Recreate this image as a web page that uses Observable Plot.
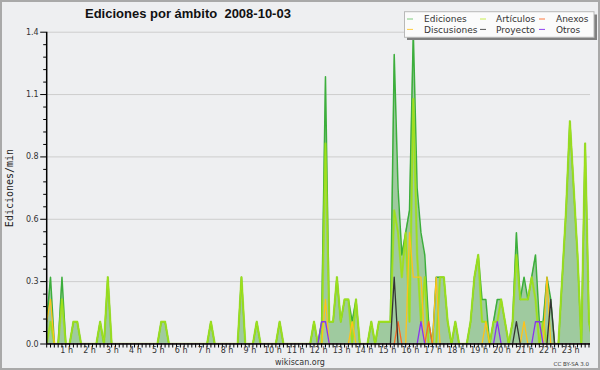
<!DOCTYPE html>
<html><head><meta charset="utf-8">
<script src="https://cdn.jsdelivr.net/npm/d3@7"></script>
<script src="https://cdn.jsdelivr.net/npm/@observablehq/plot@0.6"></script>
<style>
body{margin:0;background:#eeeff1;}
#wrap{width:600px;height:370px;}
</style>
</head><body><div id="wrap"></div>
<script>
// 10-minute bins (144 per day), values in edits/min; one row per hour (6 bins)
const total = [
  0.1,0.3,0,0,0.3,0,   0,0.1,0.1,0,0,0,   0,0,0.1,0,0.3,0,   0,0,0,0,0,0,
  0,0,0,0,0,0,         0.1,0.1,0,0,0,0,   0,0,0,0,0,0,       0,0.1,0,0,0,0,
  0,0,0,0.3,0,0,       0,0.1,0,0,0,0,     0,0.1,0,0,0,0,     0,0,0,0,0.1,0,
  0.1,1.2,0.1,0.1,0.3,0.1, 0.2,0.2,0.1,0.2,0,0, 0,0.1,0,0.1,0.1,0.1, 0.1,1.3,0.7,0.4,0.5,0.6,
  1.4,0.7,0.5,0.4,0.1,0, 0.3,0.3,0.3,0.1,0,0.1, 0,0,0,0.1,0.3,0.4, 0.2,0.2,0,0.1,0.2,0.2,
  0.1,0,0.1,0.5,0.2,0.3, 0.2,0.3,0.4,0.1,0.1,0.3, 0.2,0,0,0.3,0.6,1.0, 0.7,0.4,0,0.9,0.1,0
];
const articulos = [
  0,0.1,0,0,0.2,0,     0,0.1,0.1,0,0,0,   0,0,0.1,0,0.3,0,   0,0,0,0,0,0,
  0,0,0,0,0,0,         0.1,0.1,0,0,0,0,   0,0,0,0,0,0,       0,0.1,0,0,0,0,
  0,0,0,0.3,0,0,       0,0.1,0,0,0,0,     0,0.1,0,0,0,0,     0,0,0,0,0.1,0,
  0,0.9,0.1,0.1,0.3,0.1, 0.2,0.2,0,0.2,0,0, 0,0.1,0,0.1,0.1,0.1, 0.1,0.6,0.5,0.3,0.5,0.1,
  1.1,0.4,0.1,0.3,0,0, 0,0.3,0.3,0.1,0,0.1, 0,0,0,0.1,0.3,0.4, 0.1,0.1,0,0.1,0.1,0.2,
  0.1,0,0.1,0.4,0.2,0.2, 0.2,0.3,0.2,0,0.1,0, 0,0,0,0.3,0.6,1.0, 0.7,0.4,0,0.9,0.1,0
];
const discusiones = [
  0.1,0.2,0,0,0,0, 0,0,0,0,0,0, 0,0,0,0,0,0, 0,0,0,0,0,0,
  0,0,0,0,0,0, 0,0,0,0,0,0, 0,0,0,0,0,0, 0,0,0,0,0,0,
  0,0,0,0,0,0, 0,0,0,0,0,0, 0,0,0,0,0,0, 0,0,0,0,0,0,
  0,0.2,0,0,0,0, 0,0,0.1,0,0,0, 0,0,0,0,0,0, 0,0,0,0,0,0.5,
  0.3,0.3,0.3,0,0,0, 0.3,0,0,0,0,0, 0,0,0,0,0,0, 0,0.1,0,0,0,0,
  0,0,0,0,0,0.1, 0,0,0,0,0,0.3, 0,0,0,0,0,0, 0,0,0,0,0,0
];
const anexos = [
  0,0,0,0,0,0, 0,0,0,0,0,0, 0,0,0,0,0,0, 0,0,0,0,0,0,
  0,0,0,0,0,0, 0,0,0,0,0,0, 0,0,0,0,0,0, 0,0,0,0,0,0,
  0,0,0,0,0,0, 0,0,0,0,0,0, 0,0,0,0,0,0, 0,0,0,0,0,0,
  0,0,0,0,0,0, 0,0,0,0,0,0, 0,0,0,0,0,0, 0,0,0.1,0,0,0,
  0,0,0,0,0.1,0, 0,0,0,0,0,0, 0,0,0,0,0,0, 0,0,0,0,0,0,
  0,0,0,0,0,0, 0,0,0,0,0,0, 0,0,0,0,0,0, 0,0,0,0,0,0
];
const proyecto = [
  0,0,0,0,0,0, 0,0,0,0,0,0, 0,0,0,0,0,0, 0,0,0,0,0,0,
  0,0,0,0,0,0, 0,0,0,0,0,0, 0,0,0,0,0,0, 0,0,0,0,0,0,
  0,0,0,0,0,0, 0,0,0,0,0,0, 0,0,0,0,0,0, 0,0,0,0,0,0,
  0,0,0,0,0,0, 0,0,0,0,0,0, 0,0,0,0,0,0, 0,0.3,0,0,0,0,
  0,0,0,0,0,0, 0,0,0,0,0,0, 0,0,0,0,0,0, 0,0,0,0,0,0,
  0,0,0,0.1,0,0, 0,0,0,0,0,0, 0.2,0,0,0,0,0, 0,0,0,0,0,0
];
const otros = [
  0,0,0,0,0,0, 0,0,0,0,0,0, 0,0,0,0,0,0, 0,0,0,0,0,0,
  0,0,0,0,0,0, 0,0,0,0,0,0, 0,0,0,0,0,0, 0,0,0,0,0,0,
  0,0,0,0,0,0, 0,0,0,0,0,0, 0,0,0,0,0,0, 0,0,0,0,0,0,
  0.1,0.1,0,0,0,0, 0,0,0,0,0,0, 0,0,0,0,0,0, 0,0,0,0,0,0,
  0,0,0.1,0,0,0, 0,0,0,0,0,0, 0,0,0,0,0,0, 0,0,0,0,0.1,0,
  0,0,0,0,0,0, 0,0,0.1,0.1,0,0, 0,0,0,0,0,0, 0,0,0,0,0,0
];
const seriesNames = ["Ediciones","Artículos","Anexos","Discusiones","Proyecto","Otros"];
const seriesColors = ["#3cae3c","#9fe01a","#ff6a22","#ffc21a","#333333","#8a33ee"];
const yTicks = [0, 0.28, 0.56, 0.84, 1.12, 1.4];
const yTickLabels = ["0.0","0.3","0.6","0.8","1.1","1.4"];
const hourTicks = [60,120,180,240,300,360,420,480,540,600,660,720,780,840,900,960,1020,1080,1140,1200,1260,1320,1380];
const hourLabels = ["1 h","2 h","3 h","4 h","5 h","6 h","7 h","8 h","9 h","10 h","11 h","12 h","13 h","14 h","15 h","16 h","17 h","18 h","19 h","20 h","21 h","22 h","23 h"];

const rows = total.map((v, i) => ({
  t: i * 10, total: v, articulos: articulos[i], anexos: anexos[i],
  discusiones: discusiones[i], proyecto: proyecto[i], otros: otros[i]
}));
const tenMin = d3.range(0, 1430, 10);
const minorY = [];
for (let k = 0; k < yTicks.length - 1; k++)
  for (let j = 1; j < 5; j++) minorY.push(yTicks[k] + (yTicks[k + 1] - yTicks[k]) * j / 5);

const line = (key, color, w, op = 1) => Plot.lineY(rows, {x: "t", y: key, stroke: color, strokeWidth: w, strokeOpacity: op, clip: true});

const svg = Plot.plot({
  width: 600, height: 370,
  marginLeft: 46.2, marginRight: 10, marginTop: 31.7, marginBottom: 26.5,
  style: {background: "#eeeff1", fontFamily: "DejaVu Sans, sans-serif", fontSize: "8px", color: "#333", overflow: "visible"},
  x: {domain: [0, 1424], axis: null},
  y: {domain: [0, 1.4], axis: null},
  marks: [
    Plot.gridY(yTicks.slice(1), {stroke: "#cdcdcd", strokeOpacity: 1}),
    Plot.areaY(rows, {x: "t", y: "total", fill: "#9fca9f", clip: true}),
    line("total", seriesColors[0], 1.5),
    line("articulos", seriesColors[1], 2.4, 0.55),
    line("articulos", seriesColors[1], 1.3),
    line("discusiones", seriesColors[3], 1.3),
    line("anexos", seriesColors[2], 1.3),
    line("proyecto", seriesColors[4], 1.3),
    line("otros", seriesColors[5], 1.3),
    Plot.axisY({ticks: minorY, tickSize: 3, tickFormat: () => "", stroke: "#000", label: null}),
    Plot.axisY({ticks: yTicks, tickSize: 6, tickPadding: 2, stroke: "#000", fill: "#333", label: null,
      tickFormat: d => yTickLabels[yTicks.indexOf(d)]}),
    Plot.axisX({ticks: tenMin, tickSize: 4, tickFormat: () => "", stroke: "#000", label: null}),
    Plot.axisX({ticks: hourTicks, tickSize: 0, tickPadding: 3, dx: -3, fill: "#333", label: null,
      tickFormat: d => hourLabels[hourTicks.indexOf(d)]}),
    Plot.ruleY([0], {stroke: "#000", strokeWidth: 1.5}),
    Plot.ruleX([0], {stroke: "#000", strokeWidth: 1.5})
  ]
});

const s = d3.select(svg);
// frame
s.append("rect").attr("x", 1).attr("y", 1).attr("width", 598).attr("height", 368)
  .attr("fill", "none").attr("stroke", "#a9a9a9").attr("stroke-width", 2);
// title
s.append("text").attr("x", 85).attr("y", 18.3).attr("text-anchor", "start")
  .attr("font-family", "Liberation Sans, Arial, sans-serif").attr("font-weight", "bold")
  .attr("font-size", 13).attr("fill", "#111")
  .style("white-space", "pre").text("Ediciones por ámbito  2008-10-03");
// y label
s.append("text").attr("transform", "translate(13,188) rotate(-90)").attr("text-anchor", "middle")
  .attr("font-family", "DejaVu Sans Mono, monospace").attr("font-size", 10).attr("fill", "#222")
  .text("Ediciones/min");
// footer
s.append("text").attr("x", 300).attr("y", 365).attr("text-anchor", "middle")
  .attr("font-size", 8).attr("fill", "#333").text("wikiscan.org");
s.append("text").attr("x", 589).attr("y", 365.5).attr("text-anchor", "end")
  .attr("font-size", 5.5).attr("fill", "#333").text("CC BY-SA 3.0");
// legend
const lg = s.append("g").attr("text-anchor", "start");
lg.append("rect").attr("x", 407).attr("y", 14.5).attr("width", 190).attr("height", 25.5).attr("fill", "#808080");
lg.append("rect").attr("x", 404.5).attr("y", 11.7).attr("width", 189.5).attr("height", 25.6)
  .attr("fill", "#fbfbfb").attr("stroke", "#b8b8b8").attr("stroke-width", 1);
const legendPos = [
  {lx: 407, tx: 424, y: 19}, {lx: 480, tx: 496, y: 19}, {lx: 539, tx: 556, y: 19},
  {lx: 407, tx: 424, y: 29.4}, {lx: 480, tx: 496, y: 29.4}, {lx: 539, tx: 556, y: 29.4}
];
const legendColors = ["#7fcc7f", "#c8ee50", "#ff7a40", "#ffcc40", "#555555", "#9040f0"];
seriesNames.forEach((name, k) => {
  const p = legendPos[k];
  lg.append("line").attr("x1", p.lx).attr("x2", p.lx + 6).attr("y1", p.y).attr("y2", p.y)
    .attr("stroke", legendColors[k]).attr("stroke-width", 1);
  lg.append("text").attr("x", p.tx).attr("y", p.y + 3.3).attr("text-anchor", "start")
    .attr("font-size", 9).attr("fill", "#333").text(name);
});
document.getElementById("wrap").appendChild(svg);
</script>
</body></html>
